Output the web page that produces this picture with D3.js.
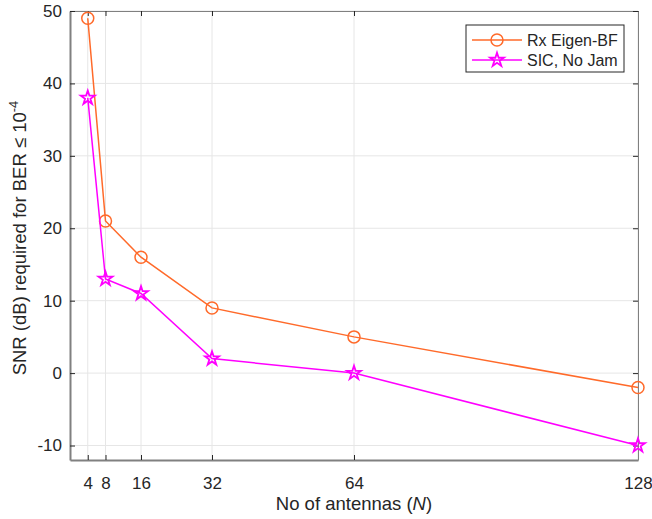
<!DOCTYPE html>
<html lang="en">
<head>
<meta charset="utf-8">
<title>SNR vs antennas</title>
<script src="https://d3js.org/d3.v7.min.js"></script>
<style>
  body { margin: 0; background: #fff; }
  text { font-family: "Liberation Sans", Arial, sans-serif; fill: #262626; }
</style>
</head>
<body>
<script>
var antennas = [4, 8, 16, 32, 64, 128];
var rxEigen = [49, 21, 16, 9, 5, -2];
var sicNoJam = [38, 13, 11, 2, 0, -10];
var yTicks = [-10, 0, 10, 20, 30, 40, 50];
var seriesNames = ["Rx Eigen-BF", "SIC, No Jam"];

var W = 652, H = 519;
var margin = {top: 11, right: 14, bottom: 59, left: 70};
var width = W - margin.left - margin.right,
    height = H - margin.top - margin.bottom;

var svg = d3.select("body").append("svg")
    .attr("width", W).attr("height", H);
var g = svg.append("g")
    .attr("transform", "translate(" + margin.left + "," + margin.top + ")");

var x = d3.scaleLinear().domain([0, 128]).range([0, width]);
var y = d3.scaleLinear().domain([-12, 50]).range([height, 0]);

// grid
g.append("g").selectAll("line").data(antennas).enter().append("line")
    .attr("x1", d => x(d)).attr("x2", d => x(d))
    .attr("y1", 0).attr("y2", height)
    .attr("stroke", "#e6e6e6").attr("stroke-width", 1);
g.append("g").selectAll("line").data(yTicks).enter().append("line")
    .attr("x1", 0).attr("x2", width)
    .attr("y1", d => y(d)).attr("y2", d => y(d))
    .attr("stroke", "#e6e6e6").attr("stroke-width", 1);

// axes (plain hyphen for negatives, like the original)
var fmt = d => String(d);
var xAxis = g.append("g").attr("transform", "translate(0," + height + ")")
    .call(d3.axisBottom(x).tickValues(antennas).tickSizeInner(-5).tickSizeOuter(0).tickPadding(17).tickFormat(fmt));
var xTop = g.append("g")
    .call(d3.axisTop(x).tickValues(antennas).tickSizeInner(-5).tickSizeOuter(0).tickFormat(""));
var yAxis = g.append("g")
    .call(d3.axisLeft(y).tickValues(yTicks).tickSizeInner(-5).tickSizeOuter(0).tickPadding(8).tickFormat(fmt));
var yRight = g.append("g").attr("transform", "translate(" + width + ",0)")
    .call(d3.axisRight(y).tickValues(yTicks).tickSizeInner(-5).tickSizeOuter(0).tickFormat(""));

[xAxis, xTop, yAxis, yRight].forEach(function(a) {
  a.select(".domain").attr("stroke", "#808080").attr("stroke-width", 1);
  a.selectAll(".tick line").attr("stroke", "#262626");
  a.selectAll("text").style("font-size", "17px").attr("fill", "#262626")
    .style("font-family", "'Liberation Sans', Arial, sans-serif");
});
xAxis.select(".domain").attr("stroke-width", 2);
yAxis.select(".domain").attr("stroke-width", 2);

var colors = ["#ff6a2a", "#ff00ff"];
var seriesData = [rxEigen, sicNoJam];

var line = d3.line().x(d => x(d[0])).y(d => y(d[1]));
var star = d3.symbol().type(d3.symbolStar).size(60);

seriesData.forEach(function(vals, i) {
  var pts = antennas.map((a, k) => [a, vals[k]]);
  g.append("path").datum(pts)
    .attr("d", line).attr("fill", "none")
    .attr("stroke", colors[i]).attr("stroke-width", 1.5);
  if (i === 0) {
    g.append("g").selectAll("circle").data(pts).enter().append("circle")
      .attr("cx", d => x(d[0])).attr("cy", d => y(d[1])).attr("r", 6)
      .attr("fill", "none").attr("stroke", colors[i]).attr("stroke-width", 1.5);
  } else {
    g.append("g").selectAll("path").data(pts).enter().append("path")
      .attr("d", star)
      .attr("transform", d => "translate(" + x(d[0]) + "," + y(d[1]) + ")")
      .attr("fill", "none").attr("stroke", colors[i]).attr("stroke-width", 1.8);
  }
});

// axis labels
svg.append("text")
  .attr("x", margin.left + width / 2).attr("y", 510)
  .attr("text-anchor", "middle").style("font-size", "18.5px")
  .html('No of antennas (<tspan font-style="italic">N</tspan>)');

svg.append("text")
  .attr("transform", "translate(26,238) rotate(-90)")
  .attr("text-anchor", "middle").style("font-size", "18.5px")
  .html('SNR (dB) required for BER \u2264 10<tspan dy="-8" font-size="13px">-4</tspan>');

// legend
var lg = svg.append("g").attr("transform", "translate(466,25)");
lg.append("rect").attr("width", 158).attr("height", 47)
  .attr("fill", "#fff").attr("stroke", "#262626").attr("stroke-width", 1);
seriesNames.forEach(function(name, i) {
  var yy = 15 + i * 20;
  lg.append("line").attr("x1", 6).attr("x2", 56).attr("y1", yy).attr("y2", yy)
    .attr("stroke", colors[i]).attr("stroke-width", 1.5);
  if (i === 0) {
    lg.append("circle").attr("cx", 31).attr("cy", yy).attr("r", 6)
      .attr("fill", "none").attr("stroke", colors[i]).attr("stroke-width", 1.5);
  } else {
    lg.append("path").attr("d", star).attr("transform", "translate(31," + yy + ")")
      .attr("fill", "none").attr("stroke", colors[i]).attr("stroke-width", 1.8);
  }
  lg.append("text").attr("x", 61).attr("y", yy + 5.5)
    .style("font-size", "16px").text(name);
});
</script>
</body>
</html>
